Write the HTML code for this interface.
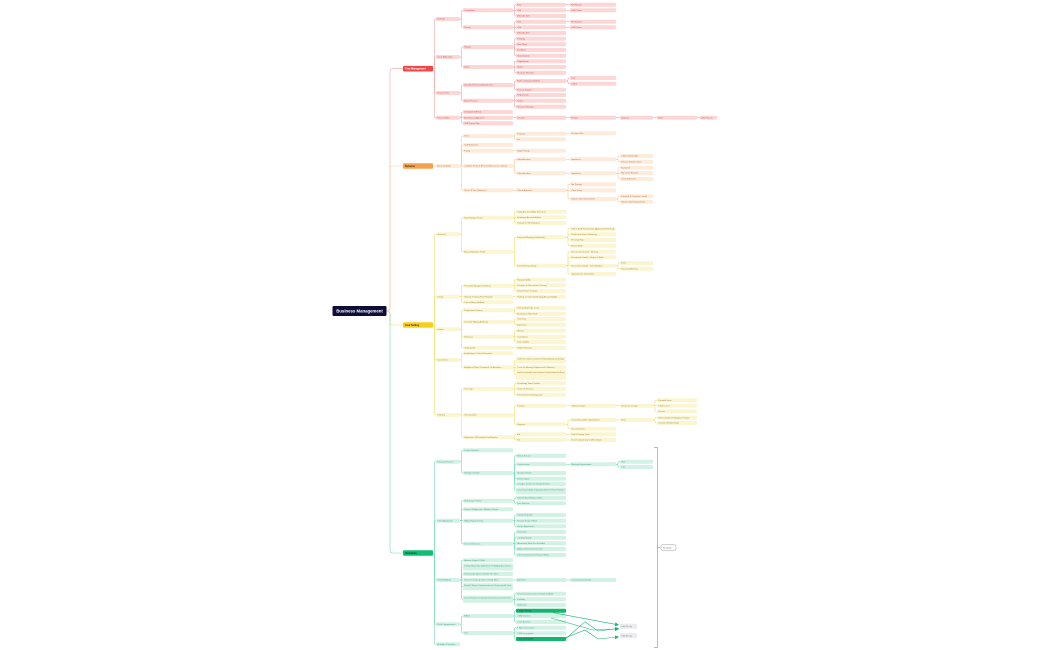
<!DOCTYPE html>
<html><head><meta charset="utf-8"><style>
html,body{margin:0;padding:0;background:#fff;width:1050px;height:650px;overflow:hidden}
svg{display:block}
text{font-family:"Liberation Sans",sans-serif}
</style></head><body>
<svg id="s" width="1050" height="650" viewBox="0 0 1050 650" xmlns="http://www.w3.org/2000/svg"></svg>
<script>
const S=document.getElementById('s');const NS='http://www.w3.org/2000/svg';
function el(t,a,txt){const e=document.createElementNS(NS,t);for(const k in a)e.setAttribute(k,a[k]);if(txt!==undefined)e.textContent=txt;S.appendChild(e);return e;}
const cols={2:[403,30],3:[436,24],4:[463,50],5:[516,50],6:[570,46],7:[620,33],8:[657,40],9:[700,17]};
function conn(x1,y1,x2,y2,c,r,mx){
  if(Math.abs(y2-y1)<0.6){el('path',{d:`M${x1} ${y1}H${x2}`,stroke:c,'stroke-width':0.6,fill:'none'});return;}
  const m=mx!==undefined?mx:(x1+x2)/2;const s=y2>y1?1:-1;r=Math.min(r,Math.abs(y2-y1)/2);
  el('path',{d:`M${x1} ${y1}H${m-r}Q${m} ${y1} ${m} ${y1+s*r}V${y2-s*r}Q${m} ${y2} ${m+r} ${y2}H${x2}`,stroke:c,'stroke-width':0.6,fill:'none'});
}
const sections=[
{name:'Time Management',y:68.7,main:'#f04848',box:'#fdd6d6',line:'#f6a3a3',txt:'#c05050',mtxt:'#fff',nodes:[
[3,19,'EOS Role'],[4,10.3,'Competition'],[5,4.7,'KPIs'],[6,4.7,'KPI Planner'],[5,10.3,'OKRs'],[6,10.3,'OKR Planner'],[5,16,'When Are Set?'],
[4,27.3,'Process'],[5,21.7,'KPIs'],[6,21.7,'KPI Planner'],[5,27.3,'OKRs'],[6,27.3,'OKR Planner'],[5,33,'When Are Set?'],
[3,57,'Issue Allocation'],[4,47,'Regular'],[5,38.7,'Priority'],[5,44.3,'New Client'],[5,50,'Deadlines'],[5,55.7,'Specification'],
[4,67,'Ad-hoc'],[5,61.3,'Registration'],[5,67,'Notice'],[5,72.7,'Resource Planning'],
[3,93,'Process Flow'],[4,85,'Standard Process (Regular Use)'],[5,81,'Roles & Responsibilities'],[6,78,'Lead'],[6,83.7,'Client'],[5,89.7,'Process Support'],
[4,100.7,'Ad-hoc Process'],[5,95,'Registration'],[5,100.7,'Notice'],[5,106.7,'Resource Planning'],
[3,117.7,'Future OKR(s)'],[4,112,'Scheduled OKR Rule'],[4,117.7,'Architecture Approach'],[5,117.7,'Comments'],[6,117.7,'Product'],[7,117.7,'Requests'],[8,117.7,'Start'],[9,117.7,'Role Process'],[4,123.3,'OKR Process Plan']]},
{name:'Behavior',y:166,main:'#f5a24c',box:'#fdebdc',line:'#f8c99c',txt:'#b07040',mtxt:'#4a2a10',nodes:[
[3,166,'Accountability'],[4,136,'Short'],[5,133.7,'Priority'],[6,133.3,'Personal Pick'],[5,139.3,'New'],[4,145,'Self Motivated'],[4,150.7,'Family'],[5,150.7,'High Priority'],
[4,166,'Complex Projects (Process Assurance, Clients)'],[5,159.3,'Identification'],[6,159.3,'Importance'],[7,156,'Client Deliverable'],[7,161.7,'Enhance Software Team'],
[5,173.3,'Classification'],[6,173.3,'Importance'],[7,167.7,'My Growth'],[7,173,'My Client Benefit'],[7,179,'Overall Benefit'],
[4,190.3,'Short Of Time (Balance)'],[5,190.3,'Clients Approach'],[6,184.3,'No Priority'],[6,190.3,'Clear Story'],[6,199,'Urgent & New Requirements'],[7,196.3,'Schedule & Complete Current'],[7,201.7,'Report & New Requirements']]},
{name:'Goal Setting',y:325,main:'#f6cf1e',box:'#fcf5d2',line:'#f5dc70',txt:'#9a8530',mtxt:'#3a3000',nodes:[
[3,234.3,'Structure'],[4,217.7,'New Employee Period'],[5,211.7,'Daily Accountability Structure'],[5,217.3,'Employee Accountabilities'],[5,223,'Example of Old Employees'],
[4,251.7,'Annual Employee Period'],[5,237.3,'Personal Meeting (Individual)'],[6,228.7,'Office Staff Priority Tips (Agreement/Virtual)'],[6,234.3,'Productive Teams Delivering'],[6,240,'Personal Help'],[6,245.7,'Newer Skills'],
[5,265.7,'Team Meeting (Group)'],[6,251.7,'Discussions Growth - Meeting'],[6,257.3,'Directional Growth - Scope of Work'],[6,265.7,'Discussions Growth - Team Members'],[7,263,'Event'],[7,268.7,'Recurring Meeting'],[6,274,'Improvements Involvement'],
[3,296.7,'Timing'],[4,285.7,'Prevention Assignments/Items'],[5,279.7,'Responsibility'],[5,285.3,'Decision In Succession Training'],[5,291,'Reward Team Trainings'],
[4,296.7,'Special Training Point Reports'],[5,296.7,'Putting in Client Achieving Accountability'],[4,302.3,'Time of Being Updated'],
[3,329.3,'Options'],[4,310.3,'Department Training'],[5,308,'Giving Staff Tips to Do'],[5,313.7,'Academy to Meet Staff'],
[4,322,'Decision Making Authority'],[5,319,'Ownership'],[5,324.7,'Experience'],[4,336.7,'Structure'],[5,330.7,'Metrics'],[5,336.7,'Consultants'],[5,342,'Data Quality'],
[4,347.7,'Getting Plan'],[5,347.7,'Follow Planning'],
[3,360,'Conventions'],[4,353.3,'Establishment Check Placement'],[4,367.3,'Analytical Client Comment On Activities'],[5,360,'Good Process Definite Commitment for Working Meeting Chart/Template',2],[5,367.3,'Track the Meeting Replacement & Meeting'],[5,375,'Smooth Process Knowledge Transfers, Introductions & Leadership Keyboard Team Meeting',3],
[3,415,'Delivery'],[4,389,'Team Days'],[5,383.3,'Knowledge Video Toolkits'],[5,389,'Check Of Sessions'],[5,394.7,'Presentations & Background'],
[4,415,'Re-evaluation'],[5,405.7,'Positive'],[6,405.7,'Guidance Groups'],[7,405.7,'Reason for Change'],[8,400.3,'Personal Issue'],[8,405.7,'Client Issue'],[8,411.3,'Process'],
[5,424.3,'Negative'],[6,420,'Overall Scope/No Opportunities'],[7,420,'Steps'],[8,417.7,'Self Commitment Negative Positive'],[8,423,'Decision Relationships'],[6,428.7,'Key Commitment'],
[4,437.3,'Explanation Of Deciding Team Member'],[5,434.3,'Fit'],[6,434.3,'Find & Develop Team'],[5,440,'Not'],[6,440,'Search Opportunity Out/Immediate']]},
{name:'Standards',y:553,main:'#12be76',box:'#d2f2e6',line:'#74dcb2',txt:'#4a9a7a',mtxt:'#063a22',nodes:[
[3,461.7,'Processes/Process'],[4,450.3,'Define Standard'],[4,473,'Weekly Checklist'],[5,455.7,'Work & Process'],[5,464.3,'Communication'],[6,464.3,'Meetings/Organization'],[7,461.7,'Work'],[7,467,'Team'],
[5,473,'Standard Drafts'],[5,478.7,'Review System'],[5,484,'Changes To One Tier Standard Sheet'],[5,491,'Know Responsibility of Upgrading Sheet To Prevent Failures',2],
[3,520.7,'Client Approvals'],[4,500.7,'Work Scope Of Work'],[5,498,'Final Refined Material Now'],[5,503.3,'Keep Work Few'],[4,509.3,'Stages Of Approvals - Advance Stages'],
[4,520.7,'Billing Requirements'],[5,515,'Clarity Deposits'],[5,520.7,'Revised Scope of Work'],[5,526.3,'Not an Expectation'],
[4,543.7,'Terms Information'],[5,532,'Disclaimer'],[5,537.7,'Confidentiality'],[5,543.3,'Alternative Work Pro Included'],[5,549,'Adding Of Remote Discussion'],[5,555,'Client Involvement Responsibility'],
[3,580,'Timely Billing'],[4,560.3,'Advance Stages Of Work'],[4,567,'Timely Billing Tips & Activities For Adding New Clients',2],[4,574,'Remaining Payment Details For Client'],
[4,580,'Save Of Creating Tasks / Giving Work'],[5,580,'Add Check'],[6,580,'Communication Details'],[4,586.7,'Benefit & Expect Communication For Reviewing Old Client',2],
[4,599.3,'Separate Staff Team Account Tracking Negative Payment Follow-ups & Introduction with Clients',2],[5,593.7,'Record Communication & Registered Adds'],[5,599.3,'Politely'],[5,605,'Diplomatic'],
[3,624.3,'Work Categorization'],[4,616,'Effort'],[5,610.7,'1 High Priority','d'],[5,616,'2 Mid Business'],[5,622,'3 Low Business'],
[4,633,'Time'],[5,627.7,'1 High Consumption'],[5,633.3,'2 Mid Consumption'],[5,639,'3 Low Consumption','d'],
[3,644.3,'Multiple Priorities']]}
];
// root connectors
sections.forEach(s=>conn(386.5,311,403,s.y,s.line,3,390));
el('rect',{x:332.5,y:306,width:54,height:10,rx:1.2,fill:'#0e0c38'});
el('text',{x:359.5,y:312.5,'font-size':4.3,'font-weight':'bold',fill:'#fff','text-anchor':'middle'},'Business Management');
sections.forEach(s=>{
  const main={lvl:2,y:s.y,x:403,w:30};
  const stack=[null,null,main];
  const boxes=[];
  s.nodes.forEach(n=>{
    const [lvl,y,label,opt]=n;const c=cols[lvl];
    const node={lvl,y,x:c[0],w:c[1],label,opt};
    stack[lvl]=node;const p=stack[lvl-1];
    if(p)conn(p.x+p.w,p.y,node.x,y,s.line,1.2);
    boxes.push(node);
  });
  el('rect',{x:403,y:s.y-2.8,width:30,height:5.6,rx:1,fill:s.main});
  el('text',{x:405,y:s.y+0.9,'font-size':2.4,'font-weight':'bold',fill:s.mtxt},s.name);
  boxes.forEach(b=>{
    const lines=typeof b.opt==='number'?b.opt:1;const h=lines===1?4:(lines===2?7:10);
    const dark=b.opt==='d';
    el('rect',{x:b.x,y:b.y-h/2,width:b.w,height:h,rx:0.9,fill:dark?'#12b76f':s.box});
    el('text',{x:b.x+1.3,y:b.y+0.7-(lines-1)*1.4,'font-size':1.9,fill:dark?'#064a2a':s.txt,textLength:Math.min(b.w-3,b.label.length*0.95),lengthAdjust:'spacingAndGlyphs'},b.label.length>60&&lines===1?b.label.slice(0,60):b.label);
  });
});
// bracket
el('path',{d:'M654 447.5H657.5V647.5H654M657.5 547.5H660',stroke:'#a0a0a8','stroke-width':0.7,fill:'none'});
el('rect',{x:661,y:544.8,width:15,height:5.4,rx:1.3,fill:'#fff',stroke:'#9a9aa2','stroke-width':0.5});
el('text',{x:663,y:548.3,'font-size':1.9,fill:'#666'},'Standards');
// high priority tags
[[626.3,'High Priority'],[635.7,'High Priority']].forEach(([y,t])=>{
  el('rect',{x:620,y:y-2.6,width:17,height:5.2,rx:1,fill:'#ececee'});
  el('text',{x:621.5,y:y+0.7,'font-size':1.9,fill:'#777'},t);
});
const g='#12b76f';
el('defs',{}).innerHTML='<marker id="a" markerWidth="4" markerHeight="4" refX="3" refY="2" orient="auto" markerUnits="userSpaceOnUse"><path d="M0 0L4 2L0 4z" fill="#12b76f"/></marker>';
[['M553 612.7L618 624.8'],['M551 618L593 630L618 629'],['M566 638.5L585 621.7L598 631L618 628.5'],['M566 637.5L585 630L598 639L618 637']].forEach(([d])=>el('path',{d,stroke:g,'stroke-width':0.6,fill:'none','marker-end':'url(#a)'}));
</script>
</body></html>
